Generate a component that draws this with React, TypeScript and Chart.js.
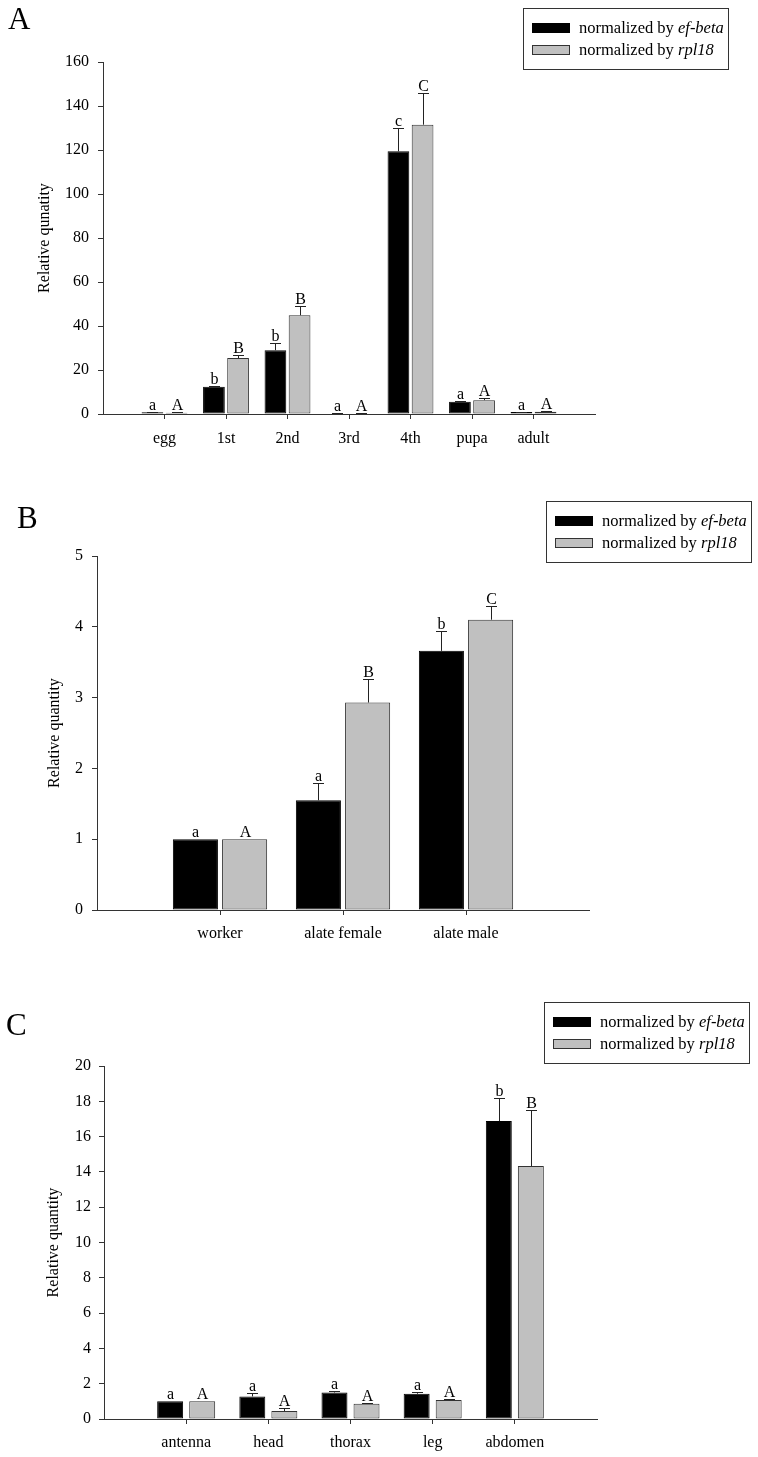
import React, { useEffect, useRef } from 'react';
import { Chart, registerables } from 'chart.js';

Chart.register(...registerables);

const FONT = '"Liberation Serif", "Times New Roman", serif';

// Panel A: developmental stages
const stageLabels = ['egg', '1st', '2nd', '3rd', '4th', 'pupa', 'adult'];
const stageEf = [0.8, 12.4, 29.0, 0.2, 119.4, 5.6, 0.9];
const stageEfErr = [0.3, 0.4, 3.4, 0.1, 10.5, 0.2, 0.2];
const stageRpl = [0.6, 25.4, 44.9, 0.2, 131.5, 6.3, 1.0];
const stageRplErr = [0.2, 1.6, 4.1, 0.1, 14.5, 0.9, 0.2];
const stageEfLetters = ['a', 'b', 'b', 'a', 'c', 'a', 'a'];
const stageRplLetters = ['A', 'B', 'B', 'A', 'C', 'A', 'A'];

// Panel B: castes
const casteLabels = ['worker', 'alate female', 'alate male'];
const casteEf = [1.0, 1.55, 3.66];
const casteEfErr = [0, 0.24, 0.28];
const casteRpl = [1.0, 2.93, 4.1];
const casteRplErr = [0, 0.33, 0.19];
const casteEfLetters = ['a', 'a', 'b'];
const casteRplLetters = ['A', 'B', 'C'];

// Panel C: tissues
const tissueLabels = ['antenna', 'head', 'thorax', 'leg', 'abdomen'];
const tissueEf = [1.0, 1.28, 1.5, 1.43, 16.88];
const tissueEfErr = [0, 0.22, 0.1, 0.1, 1.29];
const tissueRpl = [1.0, 0.45, 0.87, 1.07, 14.33];
const tissueRplErr = [0, 0.15, 0.05, 0.06, 3.17];
const tissueEfLetters = ['a', 'a', 'a', 'a', 'b'];
const tissueRplLetters = ['A', 'A', 'A', 'A', 'B'];

const yTicksA = { max: 160, step: 20 };
const yTicksB = { max: 5, step: 1 };
const yTicksC = { max: 20, step: 2 };

type PanelCfg = {
  panel: string;
  panelX: number;
  panelY: number;
  top: number;
  height: number;
  area: { left: number; right: number; top: number; bottom: number };
  labels: string[];
  ef: number[];
  efErr: number[];
  rpl: number[];
  rplErr: number[];
  efLetters: string[];
  rplLetters: string[];
  yMax: number;
  step: number;
  yTitle: string;
  titlePad: number;
  yPad: number;
  xPad: number;
  cat: number;
  bar: number;
  legend: { x: number; y: number };
};

const panels: PanelCfg[] = [
  {
    panel: 'A', panelX: 8, panelY: 29, top: 0, height: 460,
    area: { left: 103, right: 595, top: 62, bottom: 414 },
    labels: stageLabels, ef: stageEf, efErr: stageEfErr, rpl: stageRpl, rplErr: stageRplErr,
    efLetters: stageEfLetters, rplLetters: stageRplLetters,
    yMax: yTicksA.max, step: yTicksA.step, yTitle: 'Relative qunatity', titlePad: 35.4,
    yPad: 9, xPad: 10, cat: 0.785, bar: 0.9, legend: { x: 523, y: 8 },
  },
  {
    panel: 'B', panelX: 17, panelY: 58, top: 470, height: 490,
    area: { left: 97, right: 589, top: 86, bottom: 440 },
    labels: casteLabels, ef: casteEf, efErr: casteEfErr, rpl: casteRpl, rplErr: casteRplErr,
    efLetters: casteEfLetters, rplLetters: casteRplLetters,
    yMax: yTicksB.max, step: yTicksB.step, yTitle: 'Relative quantity', titlePad: 45.4,
    yPad: 9, xPad: 9, cat: 0.8, bar: 0.916, legend: { x: 546, y: 31 },
  },
  {
    panel: 'C', panelX: 6, panelY: 45, top: 990, height: 467,
    area: { left: 104, right: 597, top: 76, bottom: 429 },
    labels: tissueLabels, ef: tissueEf, efErr: tissueEfErr, rpl: tissueRpl, rplErr: tissueRplErr,
    efLetters: tissueEfLetters, rplLetters: tissueRplLetters,
    yMax: yTicksC.max, step: yTicksC.step, yTitle: 'Relative quantity', titlePad: 44.6,
    yPad: 8, xPad: 9, cat: 0.78, bar: 0.81, legend: { x: 544, y: 12 },
  },
];

function buildConfig(p: PanelCfg): any {
  const labels = ['', ...p.labels, ''];
  const pad = (arr: any[]) => [null, ...arr, null];
  const errs = [pad(p.efErr), pad(p.rplErr)];
  const letters = [pad(p.efLetters), pad(p.rplLetters)];

  const errPlugin = {
    id: 'errLetters' + p.panel,
    afterDatasetsDraw(chart: any) {
      const ctx = chart.ctx;
      const ys = chart.scales.y;
      chart.data.datasets.forEach((ds: any, i: number) => {
        const meta = chart.getDatasetMeta(i);
        meta.data.forEach((el: any, j: number) => {
          const v = ds.data[j];
          if (v == null) return;
          const e = errs[i][j] || 0;
          const x = Math.round(el.x) + 0.5;
          const yTop = ys.getPixelForValue(v);
          const yErr = Math.round(ys.getPixelForValue(v + e)) + 0.5;
          ctx.save();
          ctx.strokeStyle = '#222';
          ctx.lineWidth = 1;
          if (e > 0) {
            ctx.beginPath();
            ctx.moveTo(x, yTop);
            ctx.lineTo(x, yErr);
            ctx.moveTo(x - 5.5, yErr);
            ctx.lineTo(x + 5.5, yErr);
            ctx.stroke();
          }
          ctx.fillStyle = '#000';
          ctx.font = '16px ' + FONT;
          ctx.textAlign = 'center';
          ctx.textBaseline = 'alphabetic';
          const lt = letters[i][j];
          if (lt) ctx.fillText(lt, x, (e > 0 ? yErr : yTop) - 2.5);
          ctx.restore();
        });
      });
    },
    afterDraw(chart: any) {
      const ctx = chart.ctx;
      const { x, y } = p.legend;
      ctx.save();
      // panel letter
      ctx.fillStyle = '#000';
      ctx.font = '31px ' + FONT;
      ctx.textAlign = 'left';
      ctx.textBaseline = 'alphabetic';
      ctx.fillText(p.panel, p.panelX, p.panelY);
      // legend
      ctx.strokeStyle = '#333';
      ctx.lineWidth = 1;
      ctx.strokeRect(x + 0.5, y + 0.5, 205, 61);
      const rows = [
        { fill: '#000000', stroke: '#000000', name: 'ef-beta', sy: 15 },
        { fill: '#c0c0c0', stroke: '#333333', name: 'rpl18', sy: 37 },
      ];
      rows.forEach((r) => {
        ctx.fillStyle = r.fill;
        ctx.fillRect(x + 9, y + r.sy, 38, 10);
        ctx.strokeStyle = r.stroke;
        ctx.strokeRect(x + 9.5, y + r.sy + 0.5, 37, 9);
        ctx.fillStyle = '#000';
        ctx.textBaseline = 'middle';
        ctx.font = '16.5px ' + FONT;
        const pre = 'normalized by ';
        ctx.fillText(pre, x + 56, y + r.sy + 6);
        const w = ctx.measureText(pre).width;
        ctx.font = 'italic 16.5px ' + FONT;
        ctx.fillText(r.name, x + 56 + w, y + r.sy + 6);
      });
      ctx.restore();
    },
  };

  return {
    type: 'bar',
    data: {
      labels,
      datasets: [
        {
          label: 'normalized by ef-beta',
          data: pad(p.ef),
          backgroundColor: '#000000',
          borderColor: '#000000',
          borderWidth: 1,
          borderSkipped: false,
          categoryPercentage: p.cat,
          barPercentage: p.bar,
        },
        {
          label: 'normalized by rpl18',
          data: pad(p.rpl),
          backgroundColor: '#c0c0c0',
          borderColor: '#333333',
          borderWidth: 1,
          borderSkipped: false,
          categoryPercentage: p.cat,
          barPercentage: p.bar,
        },
      ],
    },
    options: {
      responsive: false,
      animation: false,
      events: [],
      layout: { padding: { top: p.area.top, right: 758 - p.area.right, left: 0, bottom: 0 } },
      plugins: { legend: { display: false }, tooltip: { enabled: false } },
      scales: {
        x: {
          type: 'category',
          offset: false,
          grid: {
            offset: false,
            drawOnChartArea: false,
            drawTicks: true,
            tickLength: 5,
            tickWidth: 1,
            tickColor: (c: any) => (c.index === 0 || c.index === labels.length - 1 ? 'rgba(0,0,0,0)' : '#333'),
          },
          border: { display: true, color: '#333', width: 1 },
          ticks: { font: { size: 16, family: FONT }, color: '#000', padding: p.xPad, maxRotation: 0, autoSkip: false },
          afterFit: (s: any) => { s.height = p.height - p.area.bottom; },
        },
        y: {
          min: 0,
          max: p.yMax,
          ticks: { stepSize: p.step, font: { size: 16, family: FONT }, color: '#000', padding: p.yPad },
          grid: { drawOnChartArea: false, drawTicks: true, tickLength: 5, tickColor: '#333', tickWidth: 1 },
          border: { display: true, color: '#333', width: 1 },
          title: {
            display: true,
            text: p.yTitle,
            font: { size: 16, family: FONT },
            color: '#000',
            padding: { top: p.titlePad, bottom: 0 },
          },
          afterFit: (s: any) => { s.width = p.area.left; },
        },
      },
    },
    plugins: [errPlugin],
  };
}

function Panel({ cfg }: { cfg: PanelCfg }) {
  const ref = useRef<HTMLCanvasElement>(null);
  useEffect(() => {
    const chart = new Chart(ref.current as HTMLCanvasElement, buildConfig(cfg));
    return () => chart.destroy();
  }, [cfg]);
  return (
    <canvas
      ref={ref}
      width={758}
      height={cfg.height}
      style={{ position: 'absolute', left: 0, top: cfg.top, width: 758, height: cfg.height }}
    />
  );
}

export default function App() {
  return (
    <div style={{ position: 'absolute', left: 0, top: 0, width: 758, height: 1457, background: '#fff' }}>
      {panels.map((p) => (
        <Panel key={p.panel} cfg={p} />
      ))}
    </div>
  );
}
